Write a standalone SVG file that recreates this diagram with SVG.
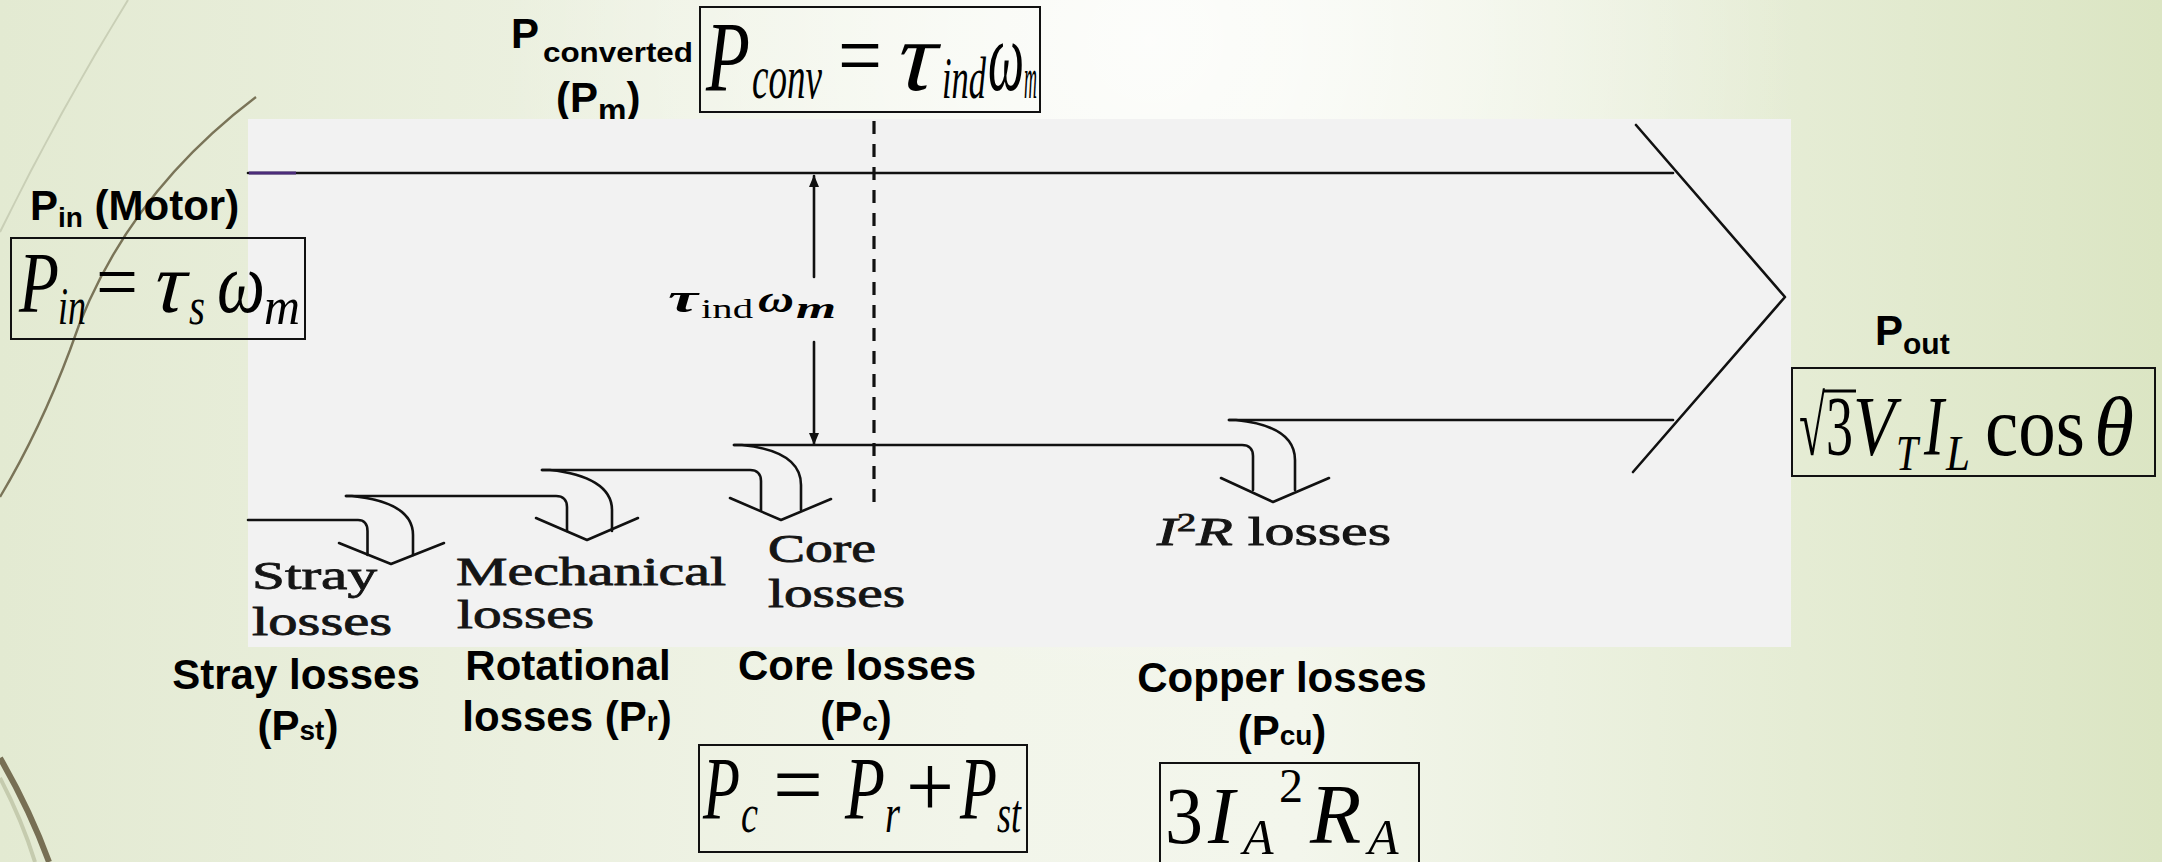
<svg xmlns="http://www.w3.org/2000/svg" width="2162" height="862" viewBox="0 0 2162 862">
  <defs>
    <linearGradient id="bg" x1="0" y1="0" x2="1" y2="0">
      <stop offset="0" stop-color="#e3ead2"/>
      <stop offset="0.45" stop-color="#f2f5ea"/>
      <stop offset="0.6" stop-color="#f3f6ec"/>
      <stop offset="1" stop-color="#dbe5c3"/>
    </linearGradient>
    <radialGradient id="glow" cx="1150" cy="40" r="650" gradientUnits="userSpaceOnUse">
      <stop offset="0" stop-color="#ffffff" stop-opacity="0.8"/>
      <stop offset="1" stop-color="#ffffff" stop-opacity="0"/>
    </radialGradient>
    <marker id="tip" viewBox="0 0 12 10" refX="11" refY="5" markerWidth="12" markerHeight="10" markerUnits="userSpaceOnUse" orient="auto">
      <path d="M0,0 L12,5 L0,10 z" fill="#111"/>
    </marker>
    <style>
      .ln { fill: none; stroke: #111; stroke-width: 2.6; stroke-linecap: round; stroke-linejoin: round; }
      .box { fill: none; stroke: #111; stroke-width: 2; }
      .lbl { font-family: "Liberation Sans", Arial, sans-serif; font-weight: bold; font-size: 42px; fill: #000; }
      .lbls { font-family: "Liberation Sans", Arial, sans-serif; font-weight: bold; font-size: 28px; fill: #000; }
      .scan { font-family: "Liberation Serif", "Times New Roman", serif; font-size: 39px; fill: #151515; stroke: #151515; stroke-width: 0.8; }
      .m { font-family: "Liberation Serif", "Times New Roman", serif; fill: #000; }
      .mi { font-family: "Liberation Serif", "Times New Roman", serif; font-style: italic; fill: #000; }
    </style>
  </defs>

  <!-- background -->
  <rect x="0" y="0" width="2162" height="862" fill="url(#bg)"/>
  <rect x="0" y="0" width="2162" height="862" fill="url(#glow)"/>

  <!-- decorative theme curves -->
  <g id="decor" fill="none">
    <path d="M128,0 Q60,110 0,232" stroke="#c9cfb6" stroke-width="2"/>
    <path d="M256,97 Q120,200 70,350 Q40,430 0,497" stroke="#7a7458" stroke-width="2.4"/>
    <path d="M0,758 Q30,810 49,862" stroke="#776f54" stroke-width="6"/>
    <path d="M0,778 Q22,820 35,862" stroke="#c5cbae" stroke-width="4"/>
  </g>

  <!-- P converted label (drawn under panel) -->
  <g id="label-pconverted">
    <text class="lbl" x="511" y="48">P</text>
    <text class="lbls" x="543" y="62" font-size="31" textLength="150" lengthAdjust="spacingAndGlyphs">converted</text>
    <text class="lbl" x="556" y="112" font-size="44">(P<tspan font-size="32" dy="9">m</tspan><tspan dy="-9">)</tspan></text>
  </g>

  <!-- scanned figure panel -->
  <rect id="panel" x="248" y="119" width="1543" height="528" fill="#f2f2f2"/>

  <!-- connectors / flow lines -->
  <g id="connectors">
    <line class="ln" x1="248" y1="173" x2="1673" y2="173"/>
    <line x1="249" y1="173" x2="296" y2="173" stroke="#4b2c7a" stroke-width="3"/>
    <polyline class="ln" points="1636,125 1785,297 1633,472"/>
    <line class="ln" x1="1229" y1="420" x2="1673" y2="420"/>
    <line x1="874" y1="121" x2="874" y2="503" stroke="#111" stroke-width="3.2" stroke-dasharray="13 10"/>
    <!-- tau omega double arrow -->
    <line class="ln" x1="814" y1="277" x2="814" y2="176" marker-end="url(#tip)"/>
    <line class="ln" x1="814" y1="342" x2="814" y2="444" marker-end="url(#tip)"/>
    <!-- stray -->
    <path class="ln" d="M248,520 L358,520 C364,520 367.5,524 367.5,531 L367.5,555"/>
    <path class="ln" d="M346,496 L352,496 C390,500 413,512 413,535 L413,555"/>
    <polyline class="ln" points="339,543 391,564 444,543"/>
    <!-- mechanical -->
    <path class="ln" d="M346,496 L556,496 C563,496 567,500 567,507 L567,531"/>
    <path class="ln" d="M542,470 L550,470 C588,474 612,487 612,510 L612,531"/>
    <polyline class="ln" points="536,518 587,540 638,518"/>
    <!-- core -->
    <path class="ln" d="M542,470 L750,470 C757,470 761,474 761,481 L761,510"/>
    <path class="ln" d="M734,445 L742,445 C780,449 801,462 801,485 L801,510"/>
    <polyline class="ln" points="730,498 781,520 831,499"/>
    <!-- copper -->
    <path class="ln" d="M734,445 L1242,445 C1249,445 1253,449 1253,456 L1253,490"/>
    <path class="ln" d="M1229,420 L1236,420 C1275,424 1295,437 1295,460 L1295,490"/>
    <polyline class="ln" points="1221,478 1273,502 1329,478"/>
  </g>

  <!-- texts in scanned panel -->
  <g id="tau-omega">
    <text class="m" x="668" y="312" font-size="40" font-weight="bold" font-style="italic" textLength="30" lengthAdjust="spacingAndGlyphs">τ</text>
    <text class="m" x="701" y="318" font-size="28" textLength="52" lengthAdjust="spacingAndGlyphs">ind</text>
    <text class="m" x="758" y="312" font-size="38" font-weight="bold" font-style="italic" textLength="36" lengthAdjust="spacingAndGlyphs">ω</text>
    <text class="m" x="796" y="318" font-size="30" font-weight="bold" font-style="italic" textLength="40" lengthAdjust="spacingAndGlyphs">m</text>
  </g>
  <g id="node-stray">
    <text class="scan" x="252" y="589" textLength="125" lengthAdjust="spacingAndGlyphs">Stray</text>
    <text class="scan" x="252" y="635" textLength="140" lengthAdjust="spacingAndGlyphs">losses</text>
  </g>
  <g id="node-mechanical">
    <text class="scan" x="456" y="585" textLength="270" lengthAdjust="spacingAndGlyphs">Mechanical</text>
    <text class="scan" x="457" y="628" textLength="137" lengthAdjust="spacingAndGlyphs">losses</text>
  </g>
  <g id="node-core">
    <text class="scan" x="768" y="562" textLength="108" lengthAdjust="spacingAndGlyphs">Core</text>
    <text class="scan" x="768" y="607" textLength="137" lengthAdjust="spacingAndGlyphs">losses</text>
  </g>
  <g id="node-i2r">
    <text class="scan" x="1157" y="545" textLength="234" lengthAdjust="spacingAndGlyphs"><tspan font-style="italic">I</tspan><tspan font-size="25" dy="-14">2</tspan><tspan font-style="italic" dy="14">R</tspan> losses</text>
  </g>

  <!-- Pin -->
  <g id="node-pin">
    <text class="lbl" x="30" y="220">P<tspan font-size="28" dy="7">in</tspan><tspan dy="-7"> (Motor)</tspan></text>
    <rect class="box" x="11" y="238" width="294" height="101"/>
    <text class="mi" x="19" y="312" font-size="86" textLength="40" lengthAdjust="spacingAndGlyphs">P</text>
    <text class="mi" x="58" y="324" font-size="52" textLength="28" lengthAdjust="spacingAndGlyphs">in</text>
    <text class="m" x="96" y="308" font-size="78" textLength="42" lengthAdjust="spacingAndGlyphs">=</text>
    <text class="m" font-size="86" transform="translate(148,312) skewX(-14)" textLength="34" lengthAdjust="spacingAndGlyphs">τ</text>
    <text class="mi" x="189" y="324" font-size="52" textLength="16" lengthAdjust="spacingAndGlyphs">s</text>
    <text class="mi" x="217" y="312" font-size="86" textLength="48" lengthAdjust="spacingAndGlyphs">ω</text>
    <text class="mi" x="264" y="324" font-size="52" textLength="36" lengthAdjust="spacingAndGlyphs">m</text>
  </g>

  <!-- Pconv -->
  <g id="node-pconv">
    <rect class="box" x="700" y="7" width="340" height="105"/>
    <text class="mi" x="706" y="90" font-size="100" textLength="44" lengthAdjust="spacingAndGlyphs">P</text>
    <text class="mi" x="752" y="98" font-size="62" textLength="70" lengthAdjust="spacingAndGlyphs">conv</text>
    <text class="m" x="838" y="86" font-size="90" textLength="44" lengthAdjust="spacingAndGlyphs">=</text>
    <text class="m" font-size="100" transform="translate(890,90) skewX(-14)" textLength="42" lengthAdjust="spacingAndGlyphs">τ</text>
    <text class="mi" x="942" y="98" font-size="60" textLength="44" lengthAdjust="spacingAndGlyphs">ind</text>
    <text class="mi" x="988" y="90" font-size="100" textLength="36" lengthAdjust="spacingAndGlyphs">ω</text>
    <text class="mi" x="1024" y="98" font-size="60" textLength="13" lengthAdjust="spacingAndGlyphs">m</text>
  </g>

  <!-- Pout -->
  <g id="node-pout">
    <text class="lbl" x="1875" y="345">P<tspan font-size="30" dy="9">out</tspan></text>
    <rect class="box" x="1792" y="368" width="363" height="108"/>
    <text class="m" x="1799" y="455" font-size="84" textLength="26" lengthAdjust="spacingAndGlyphs">√</text>
    <line x1="1823" y1="391" x2="1856" y2="391" stroke="#000" stroke-width="3"/>
    <text class="m" x="1826" y="455" font-size="84" textLength="27" lengthAdjust="spacingAndGlyphs">3</text>
    <text class="mi" x="1853" y="455" font-size="84" textLength="42" lengthAdjust="spacingAndGlyphs">V</text>
    <text class="mi" x="1896" y="470" font-size="50" textLength="22" lengthAdjust="spacingAndGlyphs">T</text>
    <text class="mi" x="1924" y="455" font-size="84" textLength="20" lengthAdjust="spacingAndGlyphs">I</text>
    <text class="mi" x="1946" y="470" font-size="50" textLength="24" lengthAdjust="spacingAndGlyphs">L</text>
    <text class="m" x="1985" y="455" font-size="84" textLength="100" lengthAdjust="spacingAndGlyphs">cos</text>
    <text class="mi" x="2094" y="455" font-size="84" textLength="40" lengthAdjust="spacingAndGlyphs">θ</text>
  </g>

  <!-- bottom labels -->
  <g id="label-stray">
    <text class="lbl" x="296" y="689" text-anchor="middle">Stray losses</text>
    <text class="lbl" x="298" y="740" text-anchor="middle">(P<tspan font-size="28">st</tspan>)</text>
  </g>
  <g id="label-rotational">
    <text class="lbl" x="568" y="680" text-anchor="middle">Rotational</text>
    <text class="lbl" x="567" y="731" text-anchor="middle">losses (P<tspan font-size="28">r</tspan>)</text>
  </g>
  <g id="label-core">
    <text class="lbl" x="857" y="680" text-anchor="middle">Core losses</text>
    <text class="lbl" x="856" y="731" text-anchor="middle">(P<tspan font-size="28">c</tspan>)</text>
  </g>
  <g id="label-copper">
    <text class="lbl" x="1282" y="692" text-anchor="middle">Copper losses</text>
    <text class="lbl" x="1282" y="745" text-anchor="middle">(P<tspan font-size="28">cu</tspan>)</text>
  </g>

  <!-- Pc box -->
  <g id="node-pc">
    <rect class="box" x="699" y="745" width="328" height="107"/>
    <text class="mi" x="703" y="818" font-size="88" textLength="37" lengthAdjust="spacingAndGlyphs">P</text>
    <text class="mi" x="741" y="832" font-size="54" textLength="17" lengthAdjust="spacingAndGlyphs">c</text>
    <text class="m" x="773" y="814" font-size="88" textLength="50" lengthAdjust="spacingAndGlyphs">=</text>
    <text class="mi" x="845" y="818" font-size="88" textLength="40" lengthAdjust="spacingAndGlyphs">P</text>
    <text class="mi" x="885" y="832" font-size="54" textLength="15" lengthAdjust="spacingAndGlyphs">r</text>
    <text class="m" x="906" y="816" font-size="88" textLength="48" lengthAdjust="spacingAndGlyphs">+</text>
    <text class="mi" x="960" y="818" font-size="88" textLength="37" lengthAdjust="spacingAndGlyphs">P</text>
    <text class="mi" x="997" y="832" font-size="54" textLength="24" lengthAdjust="spacingAndGlyphs">st</text>
  </g>

  <!-- copper equation box -->
  <g id="node-pcu">
    <rect class="box" x="1160" y="763" width="259" height="110"/>
    <text class="m" x="1165" y="843" font-size="80" textLength="38" lengthAdjust="spacingAndGlyphs">3</text>
    <text class="mi" x="1208" y="843" font-size="80">I</text>
    <text class="mi" x="1243" y="854" font-size="50">A</text>
    <text class="m" x="1279" y="802" font-size="48">2</text>
    <text class="mi" x="1310" y="843" font-size="84">R</text>
    <text class="mi" x="1368" y="854" font-size="50">A</text>
  </g>
</svg>
